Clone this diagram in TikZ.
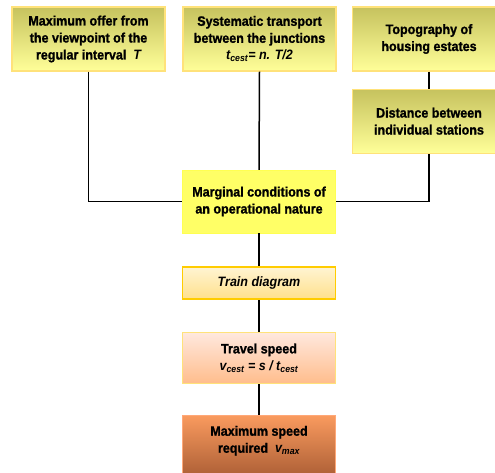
\documentclass[tikz,border=0pt]{standalone}
\usepackage{fontspec}
\setmainfont{Liberation Sans}[FakeStretch=0.92, BoldFeatures={FakeBold=1.2}]
\usetikzlibrary{positioning}

\definecolor{olivetop}{HTML}{C6C25E}
\definecolor{olivebot}{HTML}{FFFF99}
\definecolor{goldline}{HTML}{FFE27A}
\definecolor{margfill}{HTML}{FFFF66}
\definecolor{traintop}{HTML}{FFF4D2}
\definecolor{trainbot}{HTML}{FFE08C}
\definecolor{trainline}{HTML}{FFCC00}
\definecolor{speedtop}{HTML}{FFE8DE}
\definecolor{speedbot}{HTML}{FFBD8C}
\definecolor{maxtop}{HTML}{F99A5E}
\definecolor{maxbot}{HTML}{A65A32}
\definecolor{maxline}{HTML}{FFA878}

\begin{document}
\begin{tikzpicture}[
        x=1pt, y=-1pt,
        font=\fontsize{13.6}{17}\selectfont\bfseries,
        box/.style={rectangle, align=center, minimum width=153pt, inner sep=2pt},
        inputbox/.style={box, draw=goldline, line width=1.2pt, top color=olivetop, bottom color=olivebot, minimum height=64pt},
        margbox/.style={box, draw=margfill!80!yellow, fill=margfill, minimum height=63pt},
        trainbox/.style={box, draw=trainline, line width=1.8pt, top color=traintop, bottom color=trainbot, minimum height=32pt},
        speedbox/.style={box, draw=goldline, line width=1.2pt, top color=speedtop, bottom color=speedbot, minimum height=51pt},
        maxbox/.style={box, draw=maxline, line width=1.2pt, top color=maxtop, bottom color=maxbot, minimum height=66pt},
        link/.style={draw=black, line width=1.5pt},
    ]
    \clip (0,0) rectangle (495,473);

    %Nodes: inputs
    \node[inputbox] (offer)     at (88.5,39)  {Maximum offer from\\the viewpoint of the\\regular interval \ {\itshape T}};
    \node[inputbox] (transport) at (259.5,39) {Systematic transport\\between the junctions\\{\itshape t\textsubscript{cest}= n. T/2}};
    \node[inputbox] (topo)      at (429,39)   {Topography of\\housing estates};
    \node[inputbox] (distance)  [below=17pt of topo] {Distance between\\individual stations};

    %Nodes: main column
    \node[margbox]  (marginal) at (259,201.5) {Marginal conditions of\\an operational nature};
    \node[trainbox] (train)  [below=33pt of marginal] {\itshape Train diagram};
    \node[speedbox] (travel) [below=32pt of train] {Travel speed\\{\itshape v\textsubscript{cest} = s / t\textsubscript{cest}}};
    \node[maxbox]   (maxspeed) [below=31pt of travel] {Maximum speed\\required \ {\itshape v\textsubscript{max}}\\[2pt]\mbox{}};

    %Lines: connections between nodes
    \path[link] (offer.south)     |- (marginal.west);
    \path[link] (transport.south) -- (marginal.north);
    \path[link] (topo.south)      -- (distance.north);
    \path[link] (distance.south)  |- (marginal.east);
    \path[link] (marginal.south)  -- (train.north);
    \path[link] (train.south)     -- (travel.north);
    \path[link] (travel.south)    -- (maxspeed.north);
\end{tikzpicture}
\end{document}
